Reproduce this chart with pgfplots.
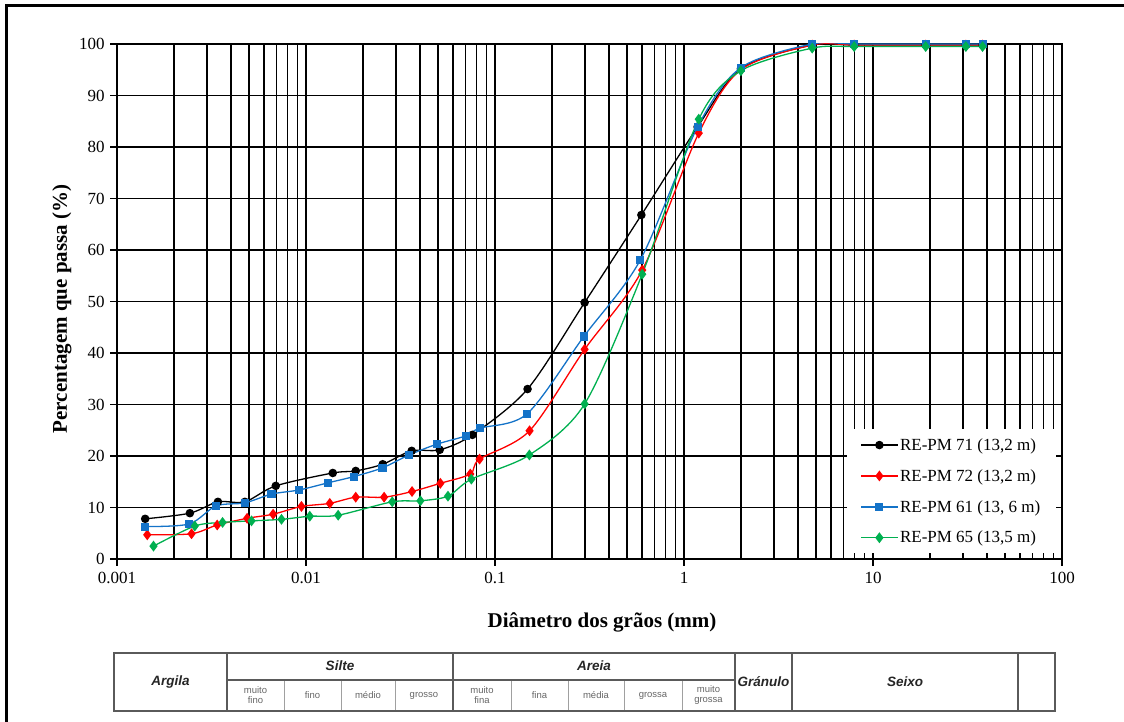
\documentclass[border=0pt]{standalone}
\usepackage{pgfplots}
\pgfplotsset{compat=1.18}
\usepackage{fontspec}
\setmainfont{Liberation Serif}
\newfontfamily\arial{Liberation Sans}
\definecolor{sblue}{RGB}{20,115,200}
\definecolor{sgreen}{RGB}{0,176,80}
\definecolor{tgray}{RGB}{90,90,90}
\definecolor{tlight}{RGB}{160,160,160}
\begin{document}
\begin{tikzpicture}[x=1pt,y=1pt]
\useasboundingbox (0,0) rectangle (1124,722);
% outer frame (top and left visible)
\draw[line width=3pt] (6.5,0) -- (6.5,716.5) -- (1124,716.5);
\begin{axis}[
  at={(117pt,163pt)}, anchor=south west,
  scale only axis, width=945pt, height=515pt,
  xmode=log, xmin=0.001, xmax=100, ymin=0, ymax=100,
  xtick={0.001,0.01,0.1,1,10,100},
  xticklabels={0.001,0.01,0.1,1,10,100},
  ytick={0,10,...,100},
  grid=both,
  major grid style={black, line width=1.5pt},
  minor grid style={black, line width=1.5pt},
  axis line style={black, line width=1.5pt},
  tick style={black, line width=1.2pt},
  major tick length=7pt, minor tick length=0pt,
  tick align=outside, xtick pos=bottom, ytick pos=left,
  /pgf/number format/assume math mode=true,
  tick label style={font=\fontsize{17}{17}\selectfont},
  xticklabel style={yshift=-3pt},
  yticklabel style={xshift=-2pt},
  legend cell align=left,
  legend style={at={(0.772,0.252)}, anchor=north west, draw=none, fill=white,
    font=\fontsize{17}{20}\selectfont, row sep=13.6pt, inner xsep=14pt, inner ysep=7pt},
  legend image code/.code={\draw[mark repeat=2,mark phase=2] plot coordinates {(0pt,0pt) (18pt,0pt) (36pt,0pt)};},
]
\addplot[black, line width=1.3pt, smooth, mark=*, mark size=3.6pt, mark options={solid}] coordinates {
(0.00141,7.8) (0.00243,8.9) (0.00342,11.1) (0.00475,11.1) (0.00692,14.2) (0.01386,16.7)
(0.01833,17.1) (0.02546,18.4) (0.03624,21.0) (0.0510,21.2) (0.0759,24.1) (0.1487,33.0)
(0.298,49.8) (0.595,66.8) (1.18,83.9) (2.0,95.2) (4.77,99.8) (7.95,99.8) (19,99.8) (31,99.8) (38,99.8)};
\addlegendentry{RE-PM 71 (13,2 m)}
\addplot[red, line width=1.3pt, smooth, mark=diamond*, mark size=4.4pt, mark options={solid}] coordinates {
(0.001446,4.7) (0.00248,4.9) (0.00339,6.6) (0.00488,7.9) (0.0067,8.7) (0.00946,10.2)
(0.01336,10.8) (0.01833,12.0) (0.0259,12.0) (0.0364,13.1) (0.0514,14.7) (0.074,16.5)
(0.0829,19.4) (0.1524,24.9) (0.298,40.7) (0.601,56.1) (1.197,82.7) (2.0,95.0)
(4.77,99.8) (7.95,99.8) (19,99.8) (31,99.8) (38,99.8)};
\addlegendentry{RE-PM 72 (13,2 m)}
\addplot[sblue, line width=1.3pt, smooth, mark=square*, mark size=3.4pt, mark options={solid}] coordinates {
(0.00141,6.3) (0.00241,6.8) (0.00334,10.3) (0.00475,10.9) (0.00657,12.6) (0.0092,13.4)
(0.0131,14.8) (0.0179,16.0) (0.0254,17.7) (0.0351,20.2) (0.0493,22.3) (0.070,23.9)
(0.083,25.4) (0.148,28.2) (0.295,43.2) (0.588,58.1) (1.18,83.9) (2.0,95.4)
(4.77,100) (7.95,100) (19,100) (31,100) (38,100)};
\addlegendentry{RE-PM 61 (13, 6 m)}
\addplot[sgreen, line width=1.3pt, smooth, mark=diamond*, mark size=4.4pt, mark options={solid}] coordinates {
(0.00156,2.5) (0.00258,6.4) (0.00362,7.1) (0.00515,7.4) (0.00742,7.7) (0.01047,8.3)
(0.0148,8.5) (0.0286,11.1) (0.0403,11.3) (0.0564,12.2) (0.075,15.5) (0.152,20.2)
(0.298,30.1) (0.601,55.3) (1.197,85.4) (2.0,94.8) (4.77,99.2) (7.95,99.5) (19,99.5) (31,99.5) (38,99.5)};
\addlegendentry{RE-PM 65 (13,5 m)}
\end{axis}
% axis titles
\node[font=\fontsize{21}{21}\selectfont\bfseries] at (602,100) {Diâmetro dos grãos (mm)};
\node[font=\fontsize{21}{21}\selectfont\bfseries, rotate=90] at (62,413) {Percentagem que passa (\%)};
% classification table
\draw[tlight, line width=1pt] (284,11) -- (284,42) (341,11) -- (341,42) (395,11) -- (395,42)
  (511,11) -- (511,42) (568,11) -- (568,42) (624,11) -- (624,42) (682,11) -- (682,42);
\draw[tgray, line width=1.3pt] (227,42) -- (735,42);
\draw[tgray, line width=2pt] (114,11) rectangle (1055,69);
\draw[tgray, line width=2pt] (227,11) -- (227,69) (453,11) -- (453,69) (735,11) -- (735,69)
  (792,11) -- (792,69) (1018,11) -- (1018,69);
\begin{scope}[every node/.style={font=\arial\fontsize{13.5}{13.5}\selectfont\bfseries\itshape, text=black!85}]
\node at (170.5,40) {Argila};
\node at (340,56) {Silte};
\node at (594,56) {Areia};
\node at (763.5,40) {Gránulo};
\node at (905,40) {Seixo};
\end{scope}
\begin{scope}[every node/.style={font=\arial\fontsize{9.5}{10}\selectfont, text=black!60, align=center}]
\node at (255.5,26.5) {muito\\fino};
\node at (312.5,26.5) {fino};
\node at (368,26.5) {médio};
\node at (424,26.5) {grosso};
\node at (482,26.5) {muito\\fina};
\node at (539.5,26.5) {fina};
\node at (596,26.5) {média};
\node at (653,26.5) {grossa};
\node at (708.5,26.5) {muito\\grossa};
\end{scope}
\end{tikzpicture}
\end{document}
